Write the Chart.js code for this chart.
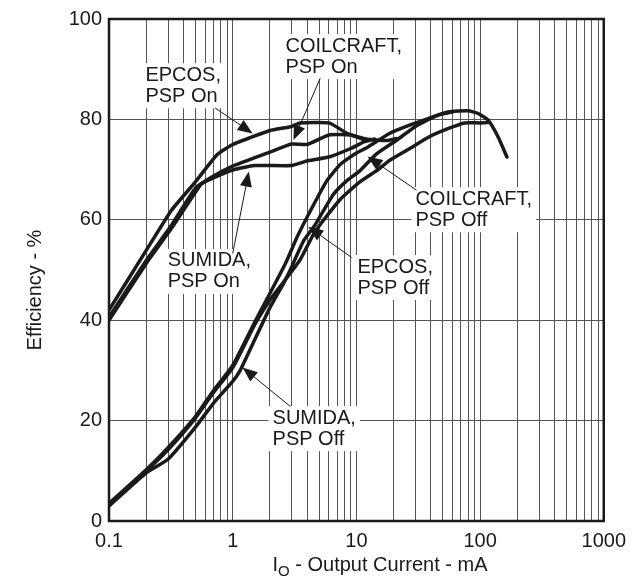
<!DOCTYPE html>
<html lang="en">
<head>
<meta charset="UTF-8">
<title>Efficiency vs Output Current</title>
<script src="https://cdn.jsdelivr.net/npm/chart.js"></script>
<style>
    body { margin: 0; background: #fff; }
    .wrap { width: 634px; height: 585px; }
</style>
</head>
<body>
<div class="wrap"><canvas id="effChart" width="634" height="585"></canvas></div>
<script>
// [output current mA, efficiency %]
const epcosOn = [[0.1,42],[0.2,53.9],[0.32,61.9],[0.49,67.3],[0.75,73],[1,75],[1.4,76.4],[2,77.8],[3,78.6],[3.5,79.3],[6,79.3],[8.6,77.1],[12,76.1],[17.5,75.8],[21,76.2]];
const coilcraftOn = [[0.1,40.6],[0.2,51.9],[0.32,58.9],[0.5,66.3],[0.7,68.7],[1,70.7],[2,73.5],[3,75.1],[4,75],[6,76.9],[9,76.9],[11.5,76]];
const sumidaOn = [[0.1,40],[0.2,51.3],[0.32,58.3],[0.55,67],[0.61,67.7],[1,69.9],[1.5,70.8],[3,70.8],[4.1,71.8],[6,72.5],[9,74.2],[11.5,75.5],[14,76.1]];

const epcosOff = [[0.1,3.5],[0.2,10.2],[0.3,14.6],[0.5,20.8],[0.7,26],[1,31],[1.5,39.5],[1.9,44.3],[2.67,51.3],[3.31,56.5],[4.23,61.7],[5.75,67.7],[7.4,71],[10,73.3],[12,74.3],[18.5,77.2],[26.6,78.8],[38.5,80.2],[55,81.5],[80,81.7],[96,81.2],[116,79.9],[140,76.5],[165,72.5]];
const coilcraftOff = [[0.1,3.3],[0.2,10],[0.3,14.2],[0.5,20.5],[0.7,25.6],[1,30.5],[1.5,39],[2,44],[2.43,46.8],[3.5,52],[4.64,57.7],[7.36,64],[10.6,67.5],[15,70],[18.5,71.8],[26.6,74.1],[38.5,76.5],[55.6,78.2],[75,79.3],[100,79.3],[118,79.4]];
const sumidaOff = [[0.1,3],[0.2,9.6],[0.3,12.3],[0.5,18.7],[0.7,23.5],[1,27.8],[1.15,30],[1.5,36],[2,42.5],[2.6,47.5],[2.93,50.1],[3.74,55.8],[4.64,59],[6.49,65],[8.3,67.7],[10.6,69.7],[14.5,73.1],[21,75.8],[30,78.6],[45,80.8],[60,81.5]];

const xLabels = [0.1, 1, 10, 100, 1000];
const yLabels = [0, 20, 40, 60, 80, 100];
const minorSteps = [1, 2, 3, 4, 5, 6, 7, 8, 9];

// callout text + where it sits, arrow start and tip (all in data units)
const callouts = [
    { lines: ['EPCOS,', 'PSP On'], at: [0.197, 88.8], from: [0.72, 82.3], to: [1.45, 77.2] },
    { lines: ['COILCRAFT,', 'PSP On'], at: [2.67, 94.6], from: [5.1, 88.2], to: [3.1, 75.9] },
    { lines: ['SUMIDA,', 'PSP On'], at: [0.298, 51.8], from: [1.0, 53.3], to: [1.35, 69.6] },
    { lines: ['COILCRAFT,', 'PSP Off'], at: [30, 64.1], from: [30.6, 65.9], to: [12.3, 72.6] },
    { lines: ['EPCOS,', 'PSP Off'], at: [10.2, 50.6], from: [9.15, 52.5], to: [4.08, 58.6] },
    { lines: ['SUMIDA,', 'PSP Off'], at: [2.1, 20.5], from: [2.93, 22.8], to: [1.2, 30.6] }
];

const FONT = "'Liberation Sans', Arial, sans-serif";
const INK = '#1a1a1a';

function series(pairs) {
    return {
        data: pairs.map(p => ({ x: p[0], y: p[1] })),
        borderColor: INK,
        borderWidth: 3.5,
        pointRadius: 0,
        tension: 0.15,
        fill: false,
        borderJoinStyle: 'round',
        borderCapStyle: 'round'
    };
}

const xTickValues = [];
xLabels.slice(0, -1).forEach(d => minorSteps.forEach(m => xTickValues.push(d * m)));
xTickValues.push(xLabels[xLabels.length - 1]);

const decor = {
    id: 'decor',
    afterDatasetsDraw(chart) {
        const ctx = chart.ctx;
        const xs = chart.scales.x, ys = chart.scales.y;
        ctx.save();
        ctx.font = '20px ' + FONT;
        ctx.textBaseline = 'middle';
        ctx.textAlign = 'left';
        callouts.forEach(c => {
            const lx = xs.getPixelForValue(c.at[0]);
            const ly = ys.getPixelForValue(c.at[1]);
            const w = Math.max(...c.lines.map(t => ctx.measureText(t).width));
            ctx.fillStyle = '#fff';
            ctx.fillRect(lx - 4, ly - 12, w + 8, 21 * c.lines.length + 3);
            ctx.fillStyle = INK;
            c.lines.forEach((t, i) => ctx.fillText(t, lx, ly + i * 21));

            const x1 = xs.getPixelForValue(c.from[0]), y1 = ys.getPixelForValue(c.from[1]);
            const x2 = xs.getPixelForValue(c.to[0]), y2 = ys.getPixelForValue(c.to[1]);
            const a = Math.atan2(y2 - y1, x2 - x1);
            ctx.strokeStyle = INK;
            ctx.lineWidth = 1;
            ctx.beginPath();
            ctx.moveTo(x1, y1);
            ctx.lineTo(x2 - 10 * Math.cos(a), y2 - 10 * Math.sin(a));
            ctx.stroke();
            ctx.beginPath();
            ctx.moveTo(x2, y2);
            ctx.lineTo(x2 - 15 * Math.cos(a) + 6 * Math.sin(a), y2 - 15 * Math.sin(a) - 6 * Math.cos(a));
            ctx.lineTo(x2 - 15 * Math.cos(a) - 6 * Math.sin(a), y2 - 15 * Math.sin(a) + 6 * Math.cos(a));
            ctx.closePath();
            ctx.fill();
        });
        ctx.restore();
    },
    afterDraw(chart) {
        const ctx = chart.ctx;
        const area = chart.chartArea;
        ctx.save();
        ctx.strokeStyle = INK;
        ctx.lineWidth = 2.5;
        ctx.strokeRect(area.left, area.top, area.right - area.left, area.bottom - area.top);

        ctx.fillStyle = INK;
        // y title
        ctx.save();
        ctx.translate(35, 290);
        ctx.rotate(-Math.PI / 2);
        ctx.font = '20px ' + FONT;
        ctx.textAlign = 'center';
        ctx.textBaseline = 'middle';
        ctx.fillText('Efficiency - %', 0, 0);
        ctx.restore();

        // x title with subscript O
        const big = '20px ' + FONT, small = '15px ' + FONT;
        const rest = ' - Output Current - mA';
        ctx.textBaseline = 'alphabetic';
        ctx.textAlign = 'left';
        ctx.font = big;
        const wI = ctx.measureText('I').width, wR = ctx.measureText(rest).width;
        ctx.font = small;
        const wO = ctx.measureText('O').width;
        let x = 380 - (wI + wO + wR) / 2;
        const base = 571;
        ctx.font = big;
        ctx.fillText('I', x, base);
        x += wI;
        ctx.font = small;
        ctx.fillText('O', x, base + 5);
        x += wO;
        ctx.font = big;
        ctx.fillText(rest, x, base);
        ctx.restore();
    }
};

new Chart(document.getElementById('effChart'), {
    type: 'line',
    data: {
        datasets: [
            series(epcosOn), series(coilcraftOn), series(sumidaOn),
            series(epcosOff), series(coilcraftOff), series(sumidaOff)
        ]
    },
    options: {
        responsive: false,
        animation: false,
        layout: { padding: { top: 19, right: 22, left: 0, bottom: 0 } },
        plugins: { legend: { display: false }, tooltip: { enabled: false } },
        scales: {
            x: {
                type: 'logarithmic',
                min: 0.1,
                max: 1000,
                afterBuildTicks: s => { s.ticks = xTickValues.map(v => ({ value: v })); },
                afterFit: s => { s.height = 64; },
                ticks: {
                    autoSkip: false,
                    maxRotation: 0,
                    padding: 8,
                    color: INK,
                    font: { family: FONT, size: 20 },
                    callback: v => xLabels.includes(v) ? String(v) : ''
                },
                grid: { color: '#555', lineWidth: 1, drawTicks: false },
                border: { display: false }
            },
            y: {
                min: 0,
                max: 100,
                afterBuildTicks: s => { s.ticks = yLabels.map(v => ({ value: v })); },
                afterFit: s => { s.width = 109; },
                ticks: {
                    padding: 7,
                    color: INK,
                    font: { family: FONT, size: 20 }
                },
                grid: { color: '#555', lineWidth: 1, drawTicks: false },
                border: { display: false }
            }
        }
    },
    plugins: [decor]
});
</script>
</body>
</html>
